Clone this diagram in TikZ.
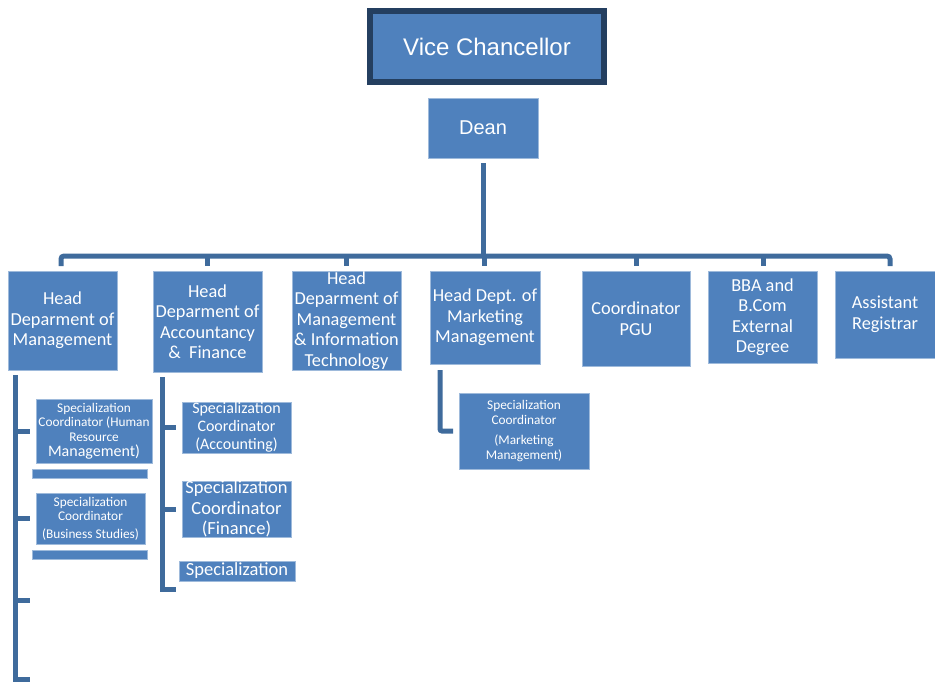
\documentclass[tikz,border=0pt]{standalone}
\usepackage{fontspec}
\setmainfont{Carlito}
\newfontfamily\arialf{Liberation Sans}
\usetikzlibrary{calc}
\definecolor{boxblue}{HTML}{4F81BD}
\definecolor{linkblue}{HTML}{3F6B9C}
\definecolor{vcborder}{HTML}{243F60}
\begin{document}
\begin{tikzpicture}[x=1pt,y=-1pt,
  box/.style={rectangle, fill=boxblue, draw=boxblue!55!white, line width=0.5pt,
    text=white, align=center, inner sep=0pt, outer sep=0pt},
  headbox/.style={box, minimum width=#1, font=\fontsize{18.3}{20.5}\selectfont},
  conn/.style={draw=linkblue, line width=5pt},
  flatbar/.style={box, minimum width=115, minimum height=9}]
\useasboundingbox (0,0) rectangle (935,681);

% top
\node[box, draw=vcborder, line width=6pt, minimum width=234, minimum height=71,
  font=\arialf\fontsize{24}{28}\selectfont] (vc) at (487,46.5) {Vice Chancellor};
\node[box, minimum width=110, minimum height=60,
  font=\arialf\fontsize{20}{24}\selectfont] (dean) at (483,128) {Dean};

% heads
\node[headbox=109, minimum height=99] (h1) at (62.5,320.5) {Head\\Deparment of\\Management};
\node[headbox=109, minimum height=101] (h2) at (207.5,321.5) {Head\\Deparment of\\Accountancy\\\&\ \ Finance};
\node[headbox=109, minimum height=99] (h3) at (346.5,320.5) {Head\\Deparment of\\Management\\\& Information\\Technology};
\node[headbox=110, minimum height=93] (h4) at (485,317.5) {Head Dept. of\\Marketing\\Management};
\node[headbox=108, minimum height=95] (h5) at (636,318.5) {Coordinator\\PGU};
\node[headbox=109, minimum height=92] (h6) at (762.5,317) {BBA and\\B.Com\\External\\Degree};
\node[headbox=100, minimum height=87] (h7) at (885,314.5) {Assistant\\Registrar};

% bar
\coordinate (bar) at (483,256);
\draw[conn] ([yshift=-5pt]dean.south) -- (bar);
\draw[conn, rounded corners=3pt] ([yshift=5pt]h1.north |- h1.north) ++(-1.5,0) -- ++(0,-10) -- ([yshift=15pt]h7.north -| 890,0) -- ++(0,10);
\foreach \h/\xx in {h2/207, h3/346, h4/484, h5/636, h6/763}{
  \draw[conn] (\xx,256) -- ([yshift=5pt]\h.north -| \xx,0);
}

% left column
\node[box, minimum width=116, minimum height=64, font=\fontsize{13.3}{14.8}\selectfont] (hr) at (94,431)
  {Specialization\\Coordinator (Human\\Resource\\{\fontsize{16}{14.8}\selectfont Management)}};
\node[flatbar] (fb1) at (89.5,473.5) {};
\node[box, minimum width=109, minimum height=51, font=\fontsize{13.3}{14.2}\selectfont] (bs) at (90.5,518.5)
  {Specialization\\Coordinator\\[4pt](Business Studies)};
\node[flatbar] (fb2) at (89.5,554.5) {};

\coordinate (lv) at (15,375);
\coordinate (lb) at (15,679);
\coordinate (lt3) at (15,600);
\draw[conn] (lv) -- (lb) -- ++(15,0);
\draw[conn] (lv |- hr.west) -- ++(15,0);
\draw[conn] (lv |- bs.west) -- ++(15,0);
\draw[conn] (lt3) -- ++(15,0);

% middle column
\node[box, minimum width=109, minimum height=51, font=\fontsize{16}{18}\selectfont] (acc) at (236.5,427.5)
  {Specialization\\Coordinator\\(Accounting)};
\node[box, minimum width=109, minimum height=52, font=\fontsize{18.5}{20.5}\selectfont] (fin) at (236.5,509)
  {Specialization\\Coordinator\\(Finance)};
\node[box, minimum width=116, minimum height=20, font=\fontsize{18.5}{20.5}\selectfont] (spc) at (237,571) {Specialization};

\coordinate (mv) at (162,377);
\coordinate (mb) at (162,589);
\draw[conn] (mv) -- (mb) -- ++(14,0);
\draw[conn] (mv |- acc.west) -- ++(14,0);
\draw[conn] (mv |- fin.west) -- ++(14,0);

% marketing sub
\node[box, minimum width=130, minimum height=76, font=\fontsize{13.3}{15}\selectfont] (mk) at (524,431)
  {Specialization\\Coordinator\\[5pt](Marketing\\Management)};
\coordinate (mkv) at (440,370);
\draw[conn, rounded corners=2pt] (mkv) |- ([xshift=-6pt]mk.west);
\end{tikzpicture}
\end{document}
